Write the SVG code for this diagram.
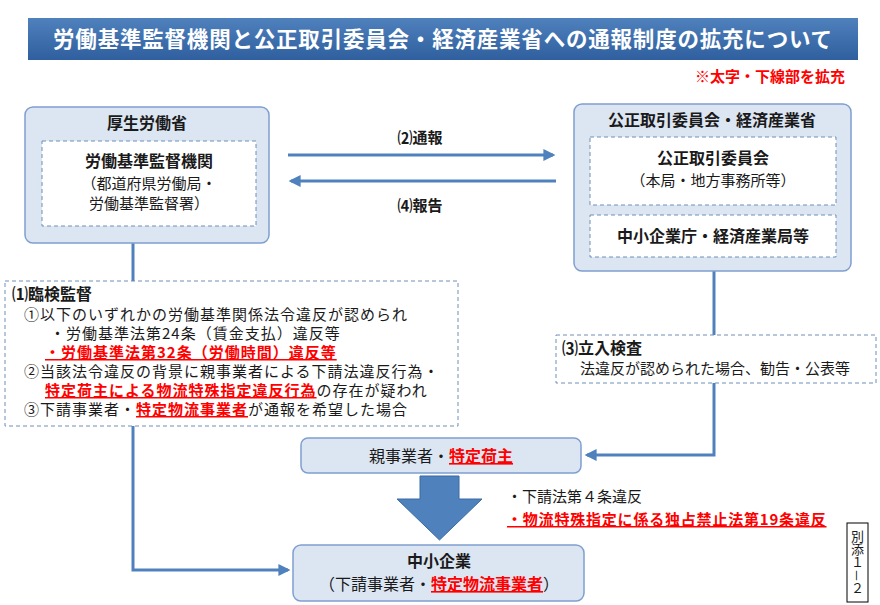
<svg xmlns="http://www.w3.org/2000/svg" width="880" height="605" viewBox="0 0 880 605">
<defs>
<linearGradient id="tg" x1="0" y1="0" x2="0" y2="1"><stop offset="0" stop-color="#4f81bd"/><stop offset="1" stop-color="#2f5f9e"/></linearGradient>
<marker id="ah" viewBox="0 0 10 10" refX="8" refY="5" markerWidth="4" markerHeight="4" orient="auto"><path d="M0,0L10,5L0,10z" fill="#4f81bd"/></marker>
</defs>
<style>
text{font-family:"Noto Sans CJK JP","Noto Sans",sans-serif;fill:#1a1a1a}
.b{font-weight:bold}
.r{fill:#ff0000;font-weight:bold;text-decoration:underline}
.box{fill:#dce6f2;stroke:#7f9fcf;stroke-width:1.5}
.dash{fill:#fff;stroke:#6f8fb8;stroke-width:1;stroke-dasharray:4,3}
.ln{fill:none;stroke:#4f81bd;stroke-width:3}
.m{text-anchor:middle}
.s{font-size:15px;letter-spacing:1px}
</style>
<rect width="880" height="605" fill="#fff"/>
<g id="title">
<rect x="28" y="18" width="830" height="42" fill="url(#tg)"/>
<text x="443" y="47" class="b m" font-size="21.5" letter-spacing="0.8" style="fill:#fff">労働基準監督機関と公正取引委員会・経済産業省への通報制度の拡充について</text>
<text x="845" y="82" font-size="15" text-anchor="end" class="b" style="fill:#ff0000">※太字・下線部を拡充</text>
</g>
<g id="connectors">
<polyline class="ln" points="133,243 133,570 288,570" marker-end="url(#ah)"/>
<polyline class="ln" points="714,271 714,455 587,455" marker-end="url(#ah)"/>
<line class="ln" x1="288" y1="155" x2="553" y2="155" marker-end="url(#ah)"/>
<line class="ln" x1="556" y1="181" x2="291" y2="181" marker-end="url(#ah)"/>
<text x="420" y="143" class="b m" font-size="15">⑵通報</text>
<text x="420" y="211" class="b m" font-size="15">⑷報告</text>
<path d="M420,476H459V499H482L439.5,540L397,499H420Z" fill="#4f81bd" stroke="#3a6aa5"/>
</g>
<g id="mhlw">
<rect class="box" x="25" y="107" width="244" height="136" rx="8"/>
<text x="147" y="129" class="b m" font-size="16">厚生労働省</text>
<rect class="dash" x="42" y="141" width="214" height="85"/>
<text x="149" y="167" class="b m" font-size="16">労働基準監督機関</text>
<text x="149" y="189" class="m" font-size="15">（都道府県労働局・</text>
<text x="149" y="209" class="m" font-size="15">労働基準監督署）</text>
</g>
<g id="jftc">
<rect class="box" x="574" y="104" width="277" height="167" rx="8"/>
<text x="712" y="126" class="b m" font-size="16">公正取引委員会・経済産業省</text>
<rect class="dash" x="590" y="137" width="246" height="68"/>
<text x="713" y="164" class="b m" font-size="16">公正取引委員会</text>
<text x="713" y="186" class="m" font-size="15">（本局・地方事務所等）</text>
<rect class="dash" x="590" y="215" width="246" height="42"/>
<text x="713" y="242" class="b m" font-size="16">中小企業庁・経済産業局等</text>
</g>
<g id="inspection">
<rect class="dash" x="5" y="281" width="453" height="145"/>
<text x="12" y="300" class="b" font-size="16">⑴臨検監督</text>
<text x="24" y="320" class="s">①以下のいずれかの労働基準関係法令違反が認められ</text>
<text x="50" y="339" class="s">・労働基準法第24条（賃金支払）違反等</text>
<text x="45" y="358" class="s r">・労働基準法第32条（労働時間）違反等</text>
<text x="24" y="377" class="s">②当該法令違反の背景に親事業者による下請法違反行為・</text>
<text x="45" y="396" class="s"><tspan class="r">特定荷主による物流特殊指定違反行為</tspan>の存在が疑われ</text>
<text x="24" y="415" class="s">③下請事業者・<tspan class="r">特定物流事業者</tspan>が通報を希望した場合</text>
</g>
<g id="onsite">
<rect class="dash" x="556" y="335" width="320" height="48"/>
<text x="562" y="354" class="b" font-size="16">⑶立入検査</text>
<text x="580" y="374" font-size="15">法違反が認められた場合、勧告・公表等</text>
</g>
<g id="parent">
<rect class="box" x="301" y="438" width="280" height="35" rx="7"/>
<text x="441" y="462" class="m" font-size="16">親事業者・<tspan class="r">特定荷主</tspan></text>
</g>
<g id="violations">
<text x="507" y="502" font-size="15">・下請法第４条違反</text>
<text x="507" y="525" font-size="15" letter-spacing="0.8" class="r">・物流特殊指定に係る独占禁止法第19条違反</text>
</g>
<g id="sme">
<rect class="box" x="293" y="545" width="291" height="56" rx="8"/>
<text x="439" y="567" class="b m" font-size="16">中小企業</text>
<text x="439" y="590" class="m" font-size="16">（下請事業者・<tspan class="r">特定物流事業者</tspan>）</text>
</g>
<g id="annex">
<rect x="847" y="523" width="21" height="79" fill="#fff" stroke="#000"/>
<text x="857.5" y="530" font-size="13" style="writing-mode:vertical-rl" text-anchor="start">別添１－２</text>
</g>
</svg>
